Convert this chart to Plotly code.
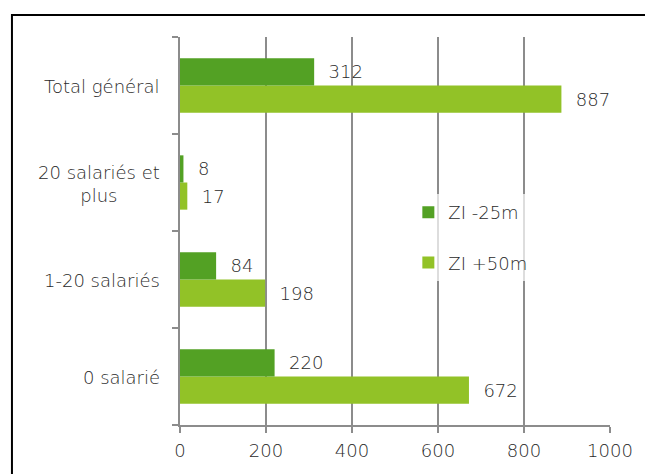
import plotly.graph_objects as go

# Categories (bottom to top) and the two series
categories = ["0 salarié", "1-20 salariés", "20 salariés et<br>plus", "Total général"]
zi_moins_25m = [220, 84, 8, 312]
zi_plus_50m = [672, 198, 17, 887]
x_ticks = [0, 200, 400, 600, 800, 1000]

dark_green = "#53A124"
light_green = "#92C227"
text_color = "#2A2A2A"
grid_color = "#8C8C8C"
font_family = "DejaVu Sans"
font_weight = 200
font_size = 18

W, H = 645, 474
ML, MR, MT, MB = 180, 30, 37, 49
pw = W - ML - MR
ph = H - MT - MB


def label_font():
    return dict(family=font_family, size=font_size, color=text_color, weight=font_weight)


fig = go.Figure()

# Lighter series first so that it sits below the darker one in each group
fig.add_trace(go.Bar(
    y=categories, x=zi_plus_50m, orientation="h", name="ZI +50m",
    marker=dict(color=light_green, line=dict(width=0)),
    text=zi_plus_50m, texttemplate="\u00a0\u00a0%{x}", textposition="outside",
    textfont=label_font(),
    cliponaxis=False, legendgroup="b", legendrank=2,
))
fig.add_trace(go.Bar(
    y=categories, x=zi_moins_25m, orientation="h", name="ZI -25m",
    marker=dict(color=dark_green, line=dict(width=0)),
    text=zi_moins_25m, texttemplate="\u00a0\u00a0%{x}", textposition="outside",
    textfont=label_font(),
    cliponaxis=False, legendgroup="a", legendrank=1,
))

# Category labels, centred line by line
annotations = []
for cat in categories:
    annotations.append(dict(
        x=(162 - ML) / pw, xref="paper", xanchor="right",
        y=cat, yref="y", yanchor="middle", yshift=-1,
        text=cat, showarrow=False, align="center",
        font=label_font(),
    ))

# Outer frame of the chart
shapes = [dict(
    type="rect", xref="paper", yref="paper",
    x0=(10 - ML) / pw, x1=(660 - ML) / pw,
    y0=(ph + MT - 490) / ph, y1=(ph + MT - 15) / ph,
    line=dict(color="black", width=2), fillcolor="rgba(0,0,0,0)",
    layer="above",
)]

fig.update_layout(
    width=W, height=H,
    margin=dict(l=ML, r=MR, t=MT, b=MB, pad=0),
    paper_bgcolor="white", plot_bgcolor="white",
    barmode="group", bargap=0.44, bargroupgap=0,
    font=label_font(),
    xaxis=dict(
        range=[0, 1000], tickvals=x_ticks, ticktext=[str(v) for v in x_ticks],
        showgrid=True, gridcolor=grid_color, gridwidth=1.5,
        showline=True, linecolor=grid_color, linewidth=1.5,
        ticks="outside", ticklen=6, tickcolor=grid_color, tickwidth=1.5,
        ticklabelstandoff=3,
        zeroline=False, fixedrange=True,
        tickfont=label_font(),
    ),
    yaxis=dict(
        showticklabels=False, tickson="boundaries",
        ticks="outside", ticklen=6, tickcolor=grid_color, tickwidth=1.5,
        showline=True, linecolor=grid_color, linewidth=1.5,
        showgrid=False, zeroline=False,
    ),
    legend=dict(
        x=(411 - ML) / pw, xanchor="left",
        y=(ph + MT - 194) / ph, yanchor="top",
        bgcolor="rgba(255,255,255,0.7)", borderwidth=0,
        tracegroupgap=24,
        font=label_font(),
    ),
    annotations=annotations,
    shapes=shapes,
)

fig.write_html("out.html")
